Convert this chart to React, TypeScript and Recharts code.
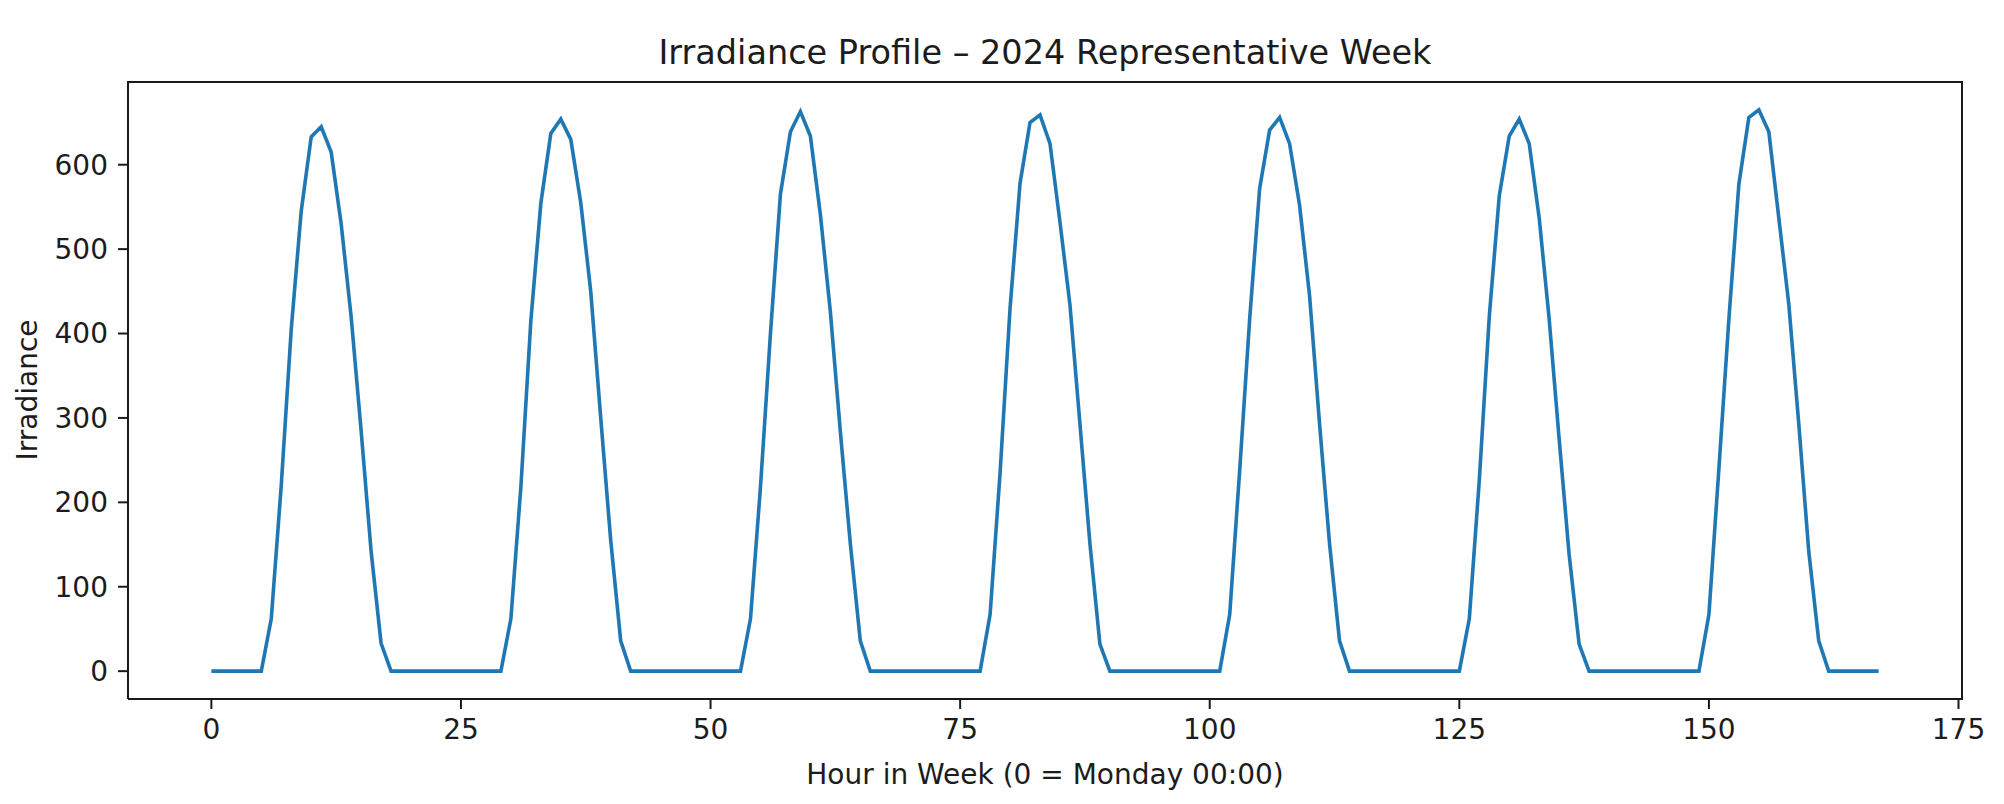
import { LineChart, Line, XAxis, YAxis } from "recharts";

// ── Data ─────────────────────────────────────────────────────────────────────

// hourly irradiance, one array per day (hour 0..23)
const monday    = [0, 0, 0, 0, 0, 0, 62, 220, 405, 545, 633, 645, 615, 530, 420, 285, 142, 33, 0, 0, 0, 0, 0, 0];
const tuesday   = [0, 0, 0, 0, 0, 0, 62, 218, 415, 554, 637, 654, 630, 555, 450, 300, 155, 36, 0, 0, 0, 0, 0, 0];
const wednesday = [0, 0, 0, 0, 0, 0, 62, 218, 400, 565, 639, 663, 634, 541, 426, 284, 151, 36, 0, 0, 0, 0, 0, 0];
const thursday  = [0, 0, 0, 0, 0, 0, 67, 235, 430, 578, 650, 659, 625, 532, 434, 293, 151, 32, 0, 0, 0, 0, 0, 0];
const friday    = [0, 0, 0, 0, 0, 0, 67, 238, 417, 572, 641, 656, 625, 552, 445, 293, 151, 36, 0, 0, 0, 0, 0, 0];
const saturday  = [0, 0, 0, 0, 0, 0, 62, 226, 420, 563, 634, 654, 625, 537, 417, 275, 138, 32, 0, 0, 0, 0, 0, 0];
const sunday    = [0, 0, 0, 0, 0, 0, 67, 240, 417, 577, 656, 665, 639, 537, 435, 293, 142, 36, 0, 0, 0, 0, 0, 0];

const week = [monday, tuesday, wednesday, thursday, friday, saturday, sunday];

const xTicks = [0, 25, 50, 75, 100, 125, 150, 175];
const yTicks = [0, 100, 200, 300, 400, 500, 600];

const data = week.flatMap((day, d) =>
  day.map((value, h) => ({ hour: d * 24 + h, irradiance: value }))
);

// ── Styles ───────────────────────────────────────────────────────────────────

const FONT = "'DejaVu Sans', sans-serif";
const INK = "#1c1c1c";
const SPINE = "#1a1a1a";

const tickStyle = { fill: INK, fontSize: 28, fontFamily: FONT };
const axisLine = { stroke: SPINE, strokeWidth: 2 };

const textBase = {
  position: "absolute" as const,
  fontFamily: FONT,
  color: INK,
  lineHeight: 1,
  whiteSpace: "nowrap" as const,
};

// ── Component ────────────────────────────────────────────────────────────────

export default function App() {
  return (
    <div style={{ position: "relative", width: 2004, height: 804, background: "#fff" }}>
      <style>{`body { margin: 0; }`}</style>

      <div style={{ ...textBase, left: 128, width: 1834, top: 36, fontSize: 33.5, textAlign: "center" }}>
        Irradiance Profile – 2024 Representative Week
      </div>

      <LineChart
        width={2004}
        height={804}
        data={data}
        margin={{ top: 82, right: 42, bottom: 45, left: 28 }}
      >
        <XAxis
          dataKey="hour"
          type="number"
          domain={[-8.35, 175.35]}
          ticks={xTicks}
          tick={tickStyle}
          tickSize={10}
          tickMargin={10}
          tickLine={axisLine}
          axisLine={axisLine}
          height={60}
          allowDataOverflow
        />
        <YAxis
          type="number"
          domain={[-33, 698]}
          ticks={yTicks}
          tick={tickStyle}
          tickSize={10}
          tickMargin={10}
          tickLine={axisLine}
          axisLine={axisLine}
          width={100}
          allowDataOverflow
        />
        <Line
          type="linear"
          dataKey="irradiance"
          stroke="#1f77b4"
          strokeWidth={3.6}
          dot={false}
          activeDot={false}
          isAnimationActive={false}
        />
      </LineChart>

      {/* top and right spines of the plot box */}
      <div
        style={{
          position: "absolute",
          left: 127,
          top: 81,
          width: 1836,
          height: 619,
          boxSizing: "border-box",
          borderTop: `2px solid ${SPINE}`,
          borderRight: `2px solid ${SPINE}`,
          pointerEvents: "none",
        }}
      />

      <div style={{ ...textBase, left: 128, width: 1834, top: 761, fontSize: 28, textAlign: "center" }}>
        Hour in Week (0 = Monday 00:00)
      </div>

      <div
        style={{
          ...textBase,
          left: 28,
          top: 390,
          fontSize: 28,
          transform: "translate(-50%, -50%) rotate(-90deg)",
        }}
      >
        Irradiance
      </div>
    </div>
  );
}
